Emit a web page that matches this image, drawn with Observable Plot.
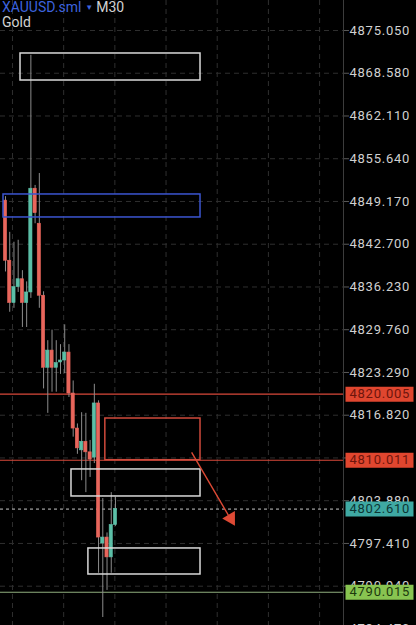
<!DOCTYPE html>
<html>
<head>
<meta charset="utf-8">
<script src="https://cdn.jsdelivr.net/npm/d3@7"></script>
<script src="https://cdn.jsdelivr.net/npm/@observablehq/plot@0.6"></script>
<style>
  html, body { margin: 0; padding: 0; background: #000; }
  #wrap { position: relative; width: 416px; height: 625px; overflow: hidden; background: #000; }
  #title { position: absolute; left: 2px; top: 0px; font-family: Roboto, "Noto Sans", sans-serif; font-size: 14px; line-height: 14px; color: #d2d2d2; pointer-events: none; }
  #title .sym { color: #3d63dd; }
  #title .arr { color: #3d63dd; font-size: 8px; vertical-align: 2px; margin: 0 3px 0 4px; }
  svg text { letter-spacing: 0.75px; }
</style>
</head>
<body>
<div id="wrap">
  <div id="chart"></div>
  <div id="title"><span class="sym">XAUUSD.sml</span><span class="arr">▼</span>M30<br>Gold</div>
</div>
<script>
// ---- data (prices) ----
const opens  = [4849.3, 4840.2, 4833.8, 4836.2, 4837.4, 4833.8, 4835.4, 4851.1, 4845.8, 4834.9, 4824.0, 4826.6, 4824.0, 4824.8, 4825.1, 4826.3, 4820.1, 4814.8, 4811.5, 4812.8, 4811.2, 4810.4, 4818.6, 4797.4, 4798.3, 4795.3, 4800.2];
const highs  = [4849.9, 4844.5, 4843.0, 4843.3, 4838.7, 4837.0, 4871.3, 4851.6, 4853.4, 4835.5, 4828.1, 4829.7, 4828.1, 4827.5, 4830.5, 4827.5, 4822.0, 4815.5, 4817.2, 4817.1, 4813.0, 4821.5, 4819.0, 4804.2, 4799.0, 4805.1, 4804.4];
const lows   = [4838.5, 4832.4, 4833.0, 4835.4, 4830.1, 4830.1, 4834.5, 4845.8, 4833.0, 4820.8, 4817.1, 4820.3, 4820.3, 4823.0, 4823.1, 4819.5, 4813.5, 4810.9, 4806.9, 4805.1, 4807.4, 4809.5, 4792.9, 4786.2, 4790.3, 4792.9, 4800.0];
const closes = [4840.2, 4833.8, 4836.2, 4837.4, 4833.8, 4835.4, 4851.1, 4847.4, 4834.9, 4824.0, 4826.6, 4824.0, 4824.7, 4825.1, 4826.3, 4820.1, 4814.8, 4811.8, 4812.8, 4811.2, 4810.1, 4818.6, 4798.3, 4798.3, 4795.3, 4800.2, 4802.61];

const tickValues = [4875.05, 4868.58, 4862.11, 4855.64, 4849.17, 4842.70, 4836.23, 4829.76, 4823.29, 4816.82, 4810.35, 4803.88, 4797.41, 4790.94, 4784.47];
const timeGrid = [1.65, 13.75, 25.85, 37.95, 50.05, 62.15, 74.25]; // bar index of vertical grid lines

// zones: [startBar, endBar, top, bottom]
const zoneKinds  = ["white", "blue", "red", "white", "white"];
const zoneStart  = [3.55, -0.47, 23.6, 15.6, 19.6];
const zoneEnd    = [46.1, 46.1, 46.1, 46.1, 46.1];
const zoneTop    = [4871.57, 4850.23, 4816.32, 4808.61, 4796.65];
const zoneBottom = [4867.48, 4846.75, 4810.011, 4804.52, 4792.71];

// price levels
const levelPrices = [4820.005, 4810.011, 4802.610, 4790.015];
const levelKinds  = ["red", "red", "current", "green"];

// projection arrow: [bar, price] start/end
const arrowFrom = [44.0, 4811.18];
const arrowTo   = [53.0, 4801.34];

// ---- build ----
const candles = opens.map((o, i) => ({i, open: o, high: highs[i], low: lows[i], close: closes[i], up: closes[i] >= o}));
const zones = zoneKinds.map((k, j) => ({kind: k, x1: zoneStart[j], x2: zoneEnd[j], y1: zoneTop[j], y2: zoneBottom[j]}));
const levels = levelPrices.map((p, j) => ({price: p, kind: levelKinds[j]}));

const X_DOMAIN = [-1.18, 79.9];
const UP = "#5cbfa7", DOWN = "#e8665c";
const zoneStroke = {white: "#d9d9d9", blue: "#3b55d0", red: "#cf4a3c"};
const lineStroke = {red: "#d9483a", current: "#c8c8c8", green: "#8fae7e"};
const labelFill = {red: "#e0462f", current: "#3fa9a3", green: "#88c451"};
const labelText = {red: "#6e150c", current: "#0d3634", green: "#1d3a0e"};

const labelBox = { draw(ctx) { ctx.moveTo(-34, -7.5); ctx.lineTo(34, -7.5); ctx.lineTo(34, 7.5); ctx.lineTo(-34, 7.5); ctx.closePath(); } };

const angle = Math.atan2(38, -65) * 180 / Math.PI;

const chart = Plot.plot({
  width: 416,
  height: 625,
  marginLeft: 0,
  marginRight: 73,
  marginTop: 0,
  marginBottom: 0,
  style: {background: "#000", fontFamily: "Roboto, 'Noto Sans', sans-serif", fontSize: "13px", color: "#d0d0d0"},
  x: {domain: X_DOMAIN, axis: null},
  y: {domain: [4784.99, 4879.59], axis: null},
  marks: [
    Plot.ruleY(tickValues, {stroke: "#2f2f2f", strokeDasharray: "5,4"}),
    Plot.ruleX(timeGrid, {stroke: "#2f2f2f", strokeDasharray: "5,4"}),
    Plot.ruleY(levels.filter(d => d.kind !== "current"), {y: "price", stroke: d => lineStroke[d.kind], strokeWidth: 1.1}),
    Plot.ruleY(levels.filter(d => d.kind === "current"), {y: "price", stroke: lineStroke.current, strokeWidth: 1, strokeDasharray: "3,3"}),
    Plot.ruleX(candles, {x: "i", y1: "low", y2: "high", stroke: "#8c8c8c", strokeWidth: 1}),
    Plot.rect(candles, {x1: d => d.i - 0.38, x2: d => d.i + 0.38, y1: "open", y2: "close",
      fill: d => d.up ? UP : DOWN, stroke: d => d.up ? UP : DOWN, strokeWidth: 0.6}),
    Plot.rect(zones, {x1: "x1", x2: "x2", y1: "y1", y2: "y2", fill: "none",
      stroke: d => zoneStroke[d.kind], strokeWidth: 1.5}),
    Plot.link([0], {x1: () => arrowFrom[0], y1: () => arrowFrom[1], x2: () => arrowTo[0], y2: () => arrowTo[1],
      stroke: "#de4a35", strokeWidth: 1.4}),
    Plot.dot([0], {x: () => arrowTo[0], y: () => arrowTo[1], symbol: "triangle2", r: 7, rotate: angle,
      fill: "#de4a35", stroke: "none", dx: 1, dy: 1}),
    Plot.frame({anchor: "right", stroke: "#3c3c3c"}),
    Plot.axisY(tickValues, {anchor: "right", tickFormat: d => d.toFixed(3), tickSize: 5, tickPadding: 1,
      fontSize: 13, stroke: "#5a5a5a", fill: "#d0d0d0", label: null}),
    Plot.dot(levels, {x: () => X_DOMAIN[1], y: "price", dx: 36, symbol: labelBox, r: 3,
      fill: d => labelFill[d.kind], stroke: "none"}),
    Plot.text(levels, {x: () => X_DOMAIN[1], y: "price", dx: 6, textAnchor: "start",
      text: d => d.price.toFixed(3), fill: d => labelText[d.kind], fontSize: 13})
  ]
});
document.getElementById("chart").appendChild(chart);
</script>
</body>
</html>
